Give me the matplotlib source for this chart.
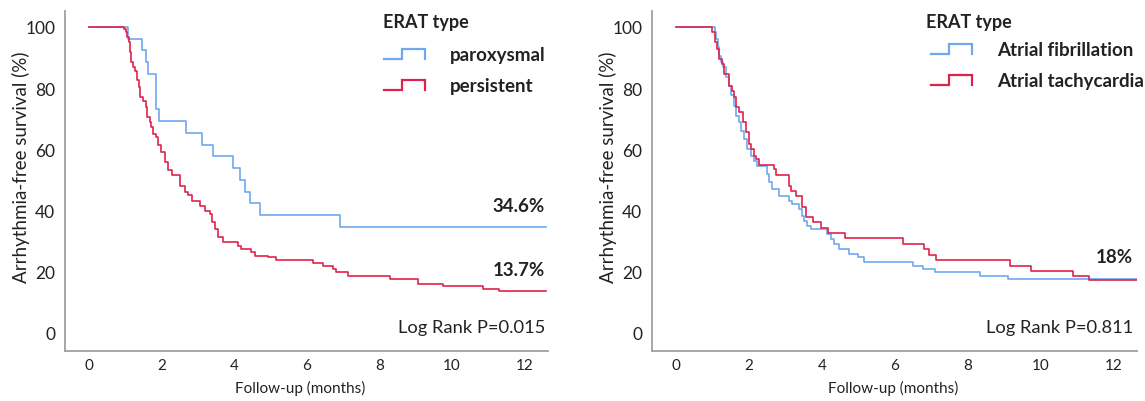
import matplotlib
matplotlib.use("Agg")
import matplotlib.pyplot as plt
from matplotlib.lines import Line2D
from matplotlib.legend_handler import HandlerBase

plt.rcParams['font.family'] = ['Lato', 'DejaVu Sans']

# ---------------- data ----------------
legend_title = "ERAT type"
xlabel = "Follow-up (months)"
ylabel = "Arrhythmia-free survival (%)"
xticks = [0, 2, 4, 6, 8, 10, 12]
yticks = [0, 20, 40, 60, 80, 100]

# Left panel
left_names = ["paroxysmal", "persistent"]
t_parox = [0, 1.07, 1.45, 1.56, 1.62, 1.83, 1.92, 2.66, 3.12, 3.42, 3.95, 4.15,
           4.28, 4.42, 4.70, 6.90, 12.6]
s_parox = [100, 96.2, 92.3, 88.5, 84.6, 73.1, 69.2, 65.4, 61.5, 57.7, 53.8, 50.0,
           46.2, 42.3, 38.5, 34.6, 34.6]
t_pers = [0, 0.95, 1.01, 1.05, 1.09, 1.12, 1.16, 1.21, 1.25, 1.32, 1.36, 1.41,
          1.48, 1.55, 1.59, 1.67, 1.71, 1.76, 1.85, 1.90, 1.99, 2.08, 2.17, 2.29,
          2.49, 2.63, 2.72, 2.84, 3.04, 3.18, 3.32, 3.39, 3.46, 3.55, 3.69, 4.10,
          4.19, 4.47, 4.56, 4.93, 5.16, 6.17, 6.44, 6.72, 6.81, 7.13, 8.28, 9.06,
          9.75, 10.85, 11.31, 12.6]
s_pers = [100, 99.3, 98.2, 96.6, 95.0, 91.7, 88.5, 86.8, 85.7, 82.5, 80.3, 77.0,
          75.9, 73.8, 70.5, 68.9, 67.2, 65.0, 63.9, 61.5, 59.0, 55.8, 53.1, 51.5,
          48.0, 45.9, 45.2, 43.2, 41.6, 40.0, 38.9, 36.2, 34.0, 31.3, 29.6, 28.5,
          27.5, 26.4, 25.3, 24.7, 23.9, 23.0, 22.0, 20.9, 19.8, 18.5, 17.6, 16.0,
          15.3, 14.4, 13.7, 13.7]
left_labels = ["34.6%", "13.7%"]
left_p = "Log Rank P=0.015"

# Right panel
right_names = ["Atrial fibrillation", "Atrial tachycardia"]
t_af = [0, 1.07, 1.10, 1.14, 1.18, 1.23, 1.29, 1.35, 1.44, 1.51, 1.58, 1.65,
        1.72, 1.78, 1.85, 1.95, 2.04, 2.13, 2.22, 2.50, 2.54, 2.64, 2.82, 3.09,
        3.18, 3.37, 3.46, 3.51, 3.60, 3.69, 4.15, 4.24, 4.33, 4.47, 4.75, 4.98,
        5.16, 6.49, 6.77, 7.09, 8.33, 9.11, 12.65]
s_af = [100, 98.2, 96.1, 93.4, 90.6, 88.5, 86.8, 83.6, 80.8, 77.6, 74.3, 71.0,
        68.9, 66.1, 63.4, 60.1, 57.9, 56.3, 54.7, 52.0, 49.2, 47.1, 44.9, 43.2,
        42.2, 40.5, 38.3, 36.7, 35.0, 34.0, 32.4, 30.7, 29.1, 27.5, 25.8, 24.7,
        23.3, 22.0, 20.9, 19.8, 18.5, 17.6, 17.6]
t_at = [0, 0.98, 1.05, 1.12, 1.17, 1.26, 1.32, 1.44, 1.53, 1.58, 1.63, 1.72,
        1.84, 1.90, 1.99, 2.06, 2.13, 2.18, 2.27, 2.68, 2.73, 3.09, 3.14, 3.28,
        3.44, 3.55, 3.74, 3.97, 4.16, 4.62, 6.22, 6.81, 6.95, 7.13, 9.15, 9.75,
        10.90, 11.34, 12.65]
s_at = [100, 98.2, 95.0, 92.8, 89.5, 87.9, 84.6, 80.8, 79.2, 77.0, 73.8, 72.3,
        68.9, 65.6, 61.8, 60.1, 57.9, 56.9, 55.0, 53.6, 51.7, 48.1, 46.5, 44.7,
        41.1, 37.8, 36.2, 34.2, 32.7, 30.9, 29.1, 27.5, 25.5, 23.9, 22.0, 20.4,
        18.5, 17.2, 17.2]
right_labels = ["18%"]
right_p = "Log Rank P=0.811"

BLUE = "#6FA8EE"
RED = "#E0234E"
AXC = "#A0A0A0"
TXT = "#222222"


class StepHandler(HandlerBase):
    def create_artists(self, legend, orig_handle, xdescent, ydescent, width,
                       height, fontsize, trans):
        h = height
        xs = [-xdescent, -xdescent + 0.45 * width, -xdescent + 0.45 * width,
              -xdescent + width, -xdescent + width]
        ys = [-ydescent + 0.0 * h, -ydescent + 0.0 * h, -ydescent + 0.85 * h,
              -ydescent + 0.85 * h, -ydescent + 0.0 * h]
        ln = Line2D(xs, ys, color=orig_handle.get_color(), lw=1.6,
                    solid_joinstyle='miter')
        ln.set_transform(trans)
        return [ln]


fig = plt.figure(figsize=(11.45, 4.02), dpi=100)
axL = fig.add_axes([0.0568, 0.1244, 0.4218, 0.8458])
axR = fig.add_axes([0.5694, 0.1244, 0.4236, 0.8458])


def style(ax, xlab_x):
    ax.set_xlim(-0.67, 12.65)
    ax.set_ylim(-5.9, 105.2)
    ax.set_xticks(xticks)
    ax.set_yticks(yticks)
    for s in ["top", "right"]:
        ax.spines[s].set_visible(False)
    for s in ["left", "bottom"]:
        ax.spines[s].set_color(AXC)
        ax.spines[s].set_linewidth(1.3)
    ax.tick_params(axis='x', length=0, pad=5, labelsize=11, labelcolor=TXT)
    ax.tick_params(axis='y', length=0, pad=7, labelsize=12.5, labelcolor=TXT)
    ax.set_xlabel(xlabel, fontsize=11, color=TXT)
    ax.set_ylabel(ylabel, fontsize=13.5, color=TXT)
    ax.xaxis.label.set_va('center')
    ax.xaxis.set_label_coords(xlab_x, -0.106)
    ax.yaxis.label.set_va('center')
    ax.yaxis.set_label_coords(-0.091, 0.544)


def add_legend(ax, lines, names, x_title, x_leg, y_leg):
    ax.text(x_title, 0.9685, legend_title, transform=ax.transAxes, ha='left',
            va='center', fontsize=13, fontweight='bold', color=TXT)
    leg = ax.legend(lines, names, loc='center left',
                    bbox_to_anchor=(x_leg, y_leg), frameon=False,
                    handler_map={Line2D: StepHandler()},
                    handlelength=2.2, handleheight=0.6, handletextpad=1.35,
                    labelspacing=0.75, prop={'weight': 'bold', 'size': 13.5},
                    borderaxespad=0, borderpad=0)
    for t in leg.get_texts():
        t.set_color(TXT)
    return leg


# Left
style(axL, 0.487)
l1, = axL.step(t_parox, s_parox, where='post', color=BLUE, lw=1.2)
l2, = axL.step(t_pers, s_pers, where='post', color=RED, lw=1.2)
add_legend(axL, [l1, l2], left_names, 0.658, 0.660, 0.827)
axL.text(0.994, 0.429, left_labels[0], transform=axL.transAxes, ha='right',
         va='center', fontsize=13.5, fontweight='bold', color=TXT)
axL.text(0.994, 0.241, left_labels[1], transform=axL.transAxes, ha='right',
         va='center', fontsize=13.5, fontweight='bold', color=TXT)
axL.text(0.994, 0.071, left_p, transform=axL.transAxes, ha='right',
         va='center', fontsize=13.2, color=TXT)

# Right
style(axR, 0.497)
r1, = axR.step(t_af, s_af, where='post', color=BLUE, lw=1.2)
r2, = axR.step(t_at, s_at, where='post', color=RED, lw=1.2)
add_legend(axR, [r1, r2], right_names, 0.566, 0.575, 0.842)
axR.text(0.992, 0.279, right_labels[0], transform=axR.transAxes, ha='right',
         va='center', fontsize=13.5, fontweight='bold', color=TXT)
axR.text(0.992, 0.071, right_p, transform=axR.transAxes, ha='right',
         va='center', fontsize=13.2, color=TXT)

fig.savefig("out.png", dpi=100)
